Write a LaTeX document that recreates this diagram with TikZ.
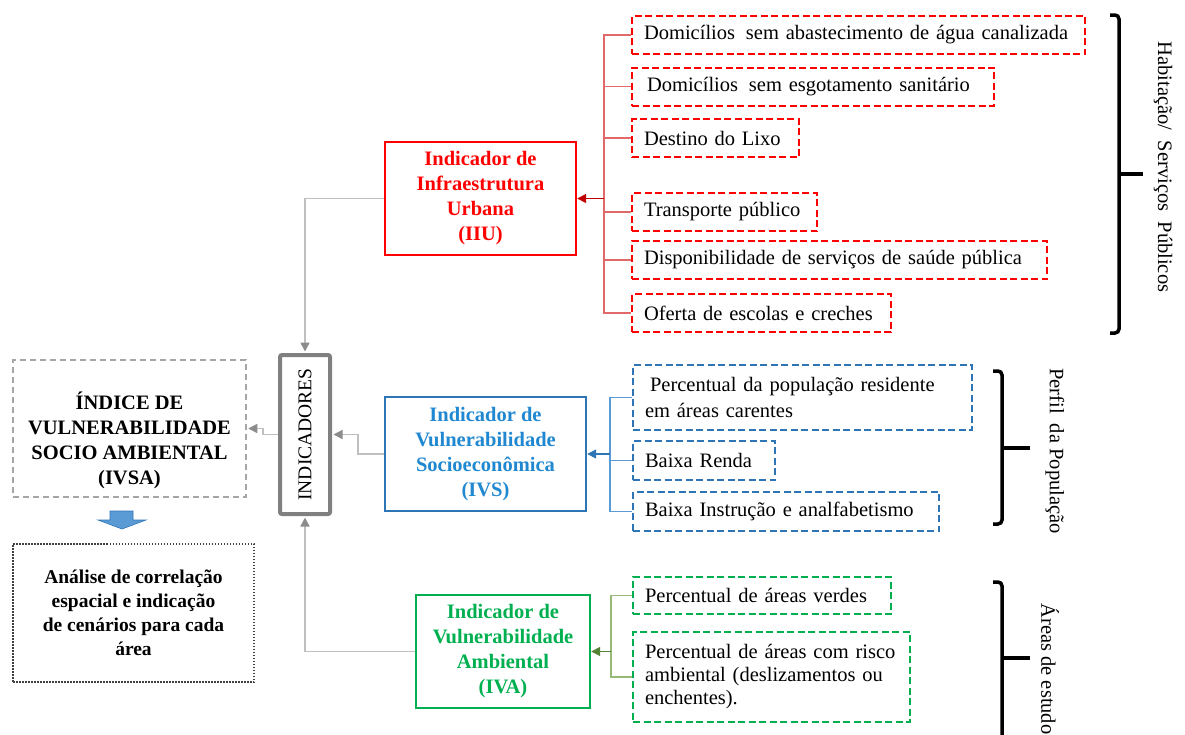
\documentclass[tikz,border=0pt]{standalone}
\usepackage{fontspec}
\setmainfont{Liberation Serif}
\usepackage{graphicx}
\usepackage{tikz}
\usetikzlibrary{positioning,arrows.meta}
\definecolor{InfraRed}{RGB}{255,0,0}
\definecolor{InfraLine}{RGB}{226,105,105}
\definecolor{InfraTip}{RGB}{192,0,0}
\definecolor{SocioBlue}{RGB}{46,117,182}
\definecolor{SocioText}{RGB}{32,136,208}
\definecolor{SocioLine}{RGB}{91,155,213}
\definecolor{AmbGreen}{RGB}{0,176,80}
\definecolor{AmbLine}{RGB}{150,185,120}
\definecolor{AmbTip}{RGB}{84,130,53}
\definecolor{LinkGray}{RGB}{191,191,191}
\definecolor{TipGray}{RGB}{140,140,140}
\definecolor{FrameGray}{RGB}{128,128,128}
\definecolor{IndexGray}{RGB}{166,166,166}
\definecolor{NoteGray}{RGB}{64,64,64}

\begin{document}
\begin{tikzpicture}[
		x=1pt,y=-1pt,
		indbox/.style={draw,line width=2.4pt,align=center,font=\fontsize{20.5}{25}\selectfont\bfseries},
		leaf/.style={draw,line width=2pt,dash pattern=on 7pt off 3.5pt,anchor=west,inner xsep=12pt,inner ysep=0pt,minimum height=38pt,align=left,font=\fontsize{20.5}{24}\selectfont},
		link/.style={LinkGray,line width=1.6pt,shorten >=1.5pt,-{Triangle[length=9pt,width=9pt,color=TipGray]}},
		brace/.style={line width=3.5pt,rounded corners=4pt},
		side/.style={rotate=-90,font=\fontsize{20.5}{25}\selectfont}
		]
				
				\useasboundingbox (0,0) rectangle (1185,734);
				
				\node[
				indbox,
				draw=InfraRed,
				text=InfraRed,
				minimum width=191pt,
				minimum height=113pt
				]
				(IIU) at (480.5,198.5)
				{Indicador de\\Infraestrutura\\Urbana\\(IIU)};
				
				\node[
				indbox,
				draw=SocioBlue,
				text=SocioText,
				minimum width=201pt,
				minimum height=114pt
				]
				(IVS) at (485.5,454)
				{Indicador de\\Vulnerabilidade\\Socioeconômica\\(IVS)};
				
				\node[
				indbox,
				draw=AmbGreen,
				text=AmbGreen,
				minimum width=174pt,
				minimum height=113pt
				]
				(IVA) at (503,651.5)
				{Indicador de\\Vulnerabilidade\\Ambiental\\(IVA)};
				
				\node[
				draw=FrameGray,
				line width=4pt,
				rounded corners=2pt,
				minimum width=50pt,
				minimum height=159pt,
				inner sep=0pt,
				font=\fontsize{19.5}{24}\selectfont
				]
				(IND) at (305,434.5)
				{\rotatebox{90}{INDICADORES}};
				
				\node[
				draw=IndexGray,
				line width=1.5pt,
				dash pattern=on 6pt off 4pt,
				minimum width=233pt,
				minimum height=137pt,
				align=center,
				font=\fontsize{20.5}{25}\selectfont\bfseries
				]
				(IVSA) at (129.5,428.5)
				{\rule{0pt}{42pt}ÍNDICE DE\\VULNERABILIDADE\\SOCIO AMBIENTAL\\(IVSA)};
				
				\node[
				draw=NoteGray,
				line width=1.5pt,
				dash pattern=on 1.5pt off 1.5pt,
				minimum width=241pt,
				minimum height=138pt,
				align=center,
				font=\fontsize{19.5}{24}\selectfont\bfseries
				]
				(AN) at (133.5,613)
				{Análise de correlação\\espacial e indicação\\de cenários para cada\\área};
				
				\node[leaf,draw=InfraRed,text width=429pt] (r1) at (631,35) {Domicílios\hspace{4pt} sem abastecimento de água canalizada};
				\node[leaf,draw=InfraRed,text width=338pt] (r2) at (631,86.5) {\hspace{3pt}Domicílios\hspace{4pt} sem esgotamento sanitário};
				\node[leaf,draw=InfraRed,text width=143pt] (r3) at (631,138) {Destino do Lixo};
				\node[leaf,draw=InfraRed,text width=161pt] (r4) at (631,212) {Transporte público};
				\node[leaf,draw=InfraRed,text width=391pt] (r5) at (631,260) {Disponibilidade de serviços de saúde pública};
				\node[leaf,draw=InfraRed,text width=235pt] (r6) at (631,313) {Oferta de escolas e creches};
				
				\node[leaf,draw=SocioBlue,text width=315pt,minimum height=65pt,font=\fontsize{20.5}{26.5}\selectfont] (b1) at (632,397.5) {\hspace{5pt}Percentual da população residente\\em áreas carentes};
				\node[leaf,draw=SocioBlue,text width=118pt,minimum height=39pt] (b2) at (632,460.5) {Baixa Renda};
				\node[leaf,draw=SocioBlue,text width=282pt,minimum height=39pt] (b3) at (632,511.5) {Baixa Instrução e analfabetismo};
				
				\node[leaf,draw=AmbGreen,text width=234pt,minimum height=37pt] (g1) at (632,595.5) {Percentual de áreas verdes};
				\node[leaf,draw=AmbGreen,text width=253pt,minimum height=90pt,font=\fontsize{20.5}{23}\selectfont] (g2) at (632,677) {Percentual de áreas com risco\\ambiental (deslizamentos ou\\enchentes).};
				
				\coordinate (rj) at (604,198.5);
				\coordinate (bj) at (610,454);
				\coordinate (gj) at (611,651.5);
				
				\draw[InfraLine,line width=1.5pt] (r1.west) -| (rj);
				\draw[InfraLine,line width=1.5pt] (r2.west) -| (rj);
				\draw[InfraLine,line width=1.5pt] (r3.west) -| (rj);
				\draw[InfraLine,line width=1.5pt] (r4.west) -| (rj);
				\draw[InfraLine,line width=1.5pt] (r5.west) -| (rj);
				\draw[InfraLine,line width=1.5pt] (r6.west) -| (rj);
				\draw[InfraTip,line width=1.5pt,-{Triangle[length=9pt,width=9pt]}] (rj) -- (IIU.east);
				
				\draw[SocioLine,line width=1.5pt] (b1.west) -| (bj);
				\draw[SocioLine,line width=1.5pt] (b2.west) -| (bj);
				\draw[SocioLine,line width=1.5pt] (b3.west) -| (bj);
				\draw[SocioBlue,line width=1.5pt,-{Triangle[length=9pt,width=9pt]}] (bj) -- (IVS.east);
				
				\draw[AmbLine,line width=1.5pt] (g1.west) -| (gj);
				\draw[AmbLine,line width=1.5pt] (g2.west) -| (gj);
				\draw[AmbTip,line width=1.5pt,-{Triangle[length=9pt,width=9pt]}] (gj) -- (IVA.east);
				
				\draw[link] (IIU.west) -| (IND.north);
				\draw[link] (IVS.west) -- ++(-26,0) |- (IND.east);
				\draw[link] (IND.west) -- ++(-15,0) |- (IVSA.east);
				\draw[link] (IVA.west) -| (IND.south);
				
				\filldraw[fill=SocioLine,draw=SocioBlue,line width=0.6pt] (110,511) -- (133,511) -- (133,520) -- (146,520) -- (122,529) -- (98,520) -- (110,520) -- cycle;
				
				\draw[brace] (1110,15) -- (1119,15) -- (1119,333) -- (1110,333);
				\draw[brace] (1119,174) -- (1143,174);
				\draw[brace] (993,371) -- (1002,371) -- (1002,524) -- (993,524);
				\draw[brace] (1002,448) -- (1030,448);
				\draw[brace] (993,582) -- (1002,582) -- (1002,740) -- (993,740);
				\draw[brace] (1002,658) -- (1030,658);
				
				\node[side] (HAB) at (1163,167) {Habitação/\ \ Serviços\ \ Públicos};
				\node[side] (POP) at (1055,451) {Perfil\ \ da População};
				\node[side,anchor=west] (EST) at (1050,600) {Áreas de estudo};
				
			\end{tikzpicture}
\end{document}
